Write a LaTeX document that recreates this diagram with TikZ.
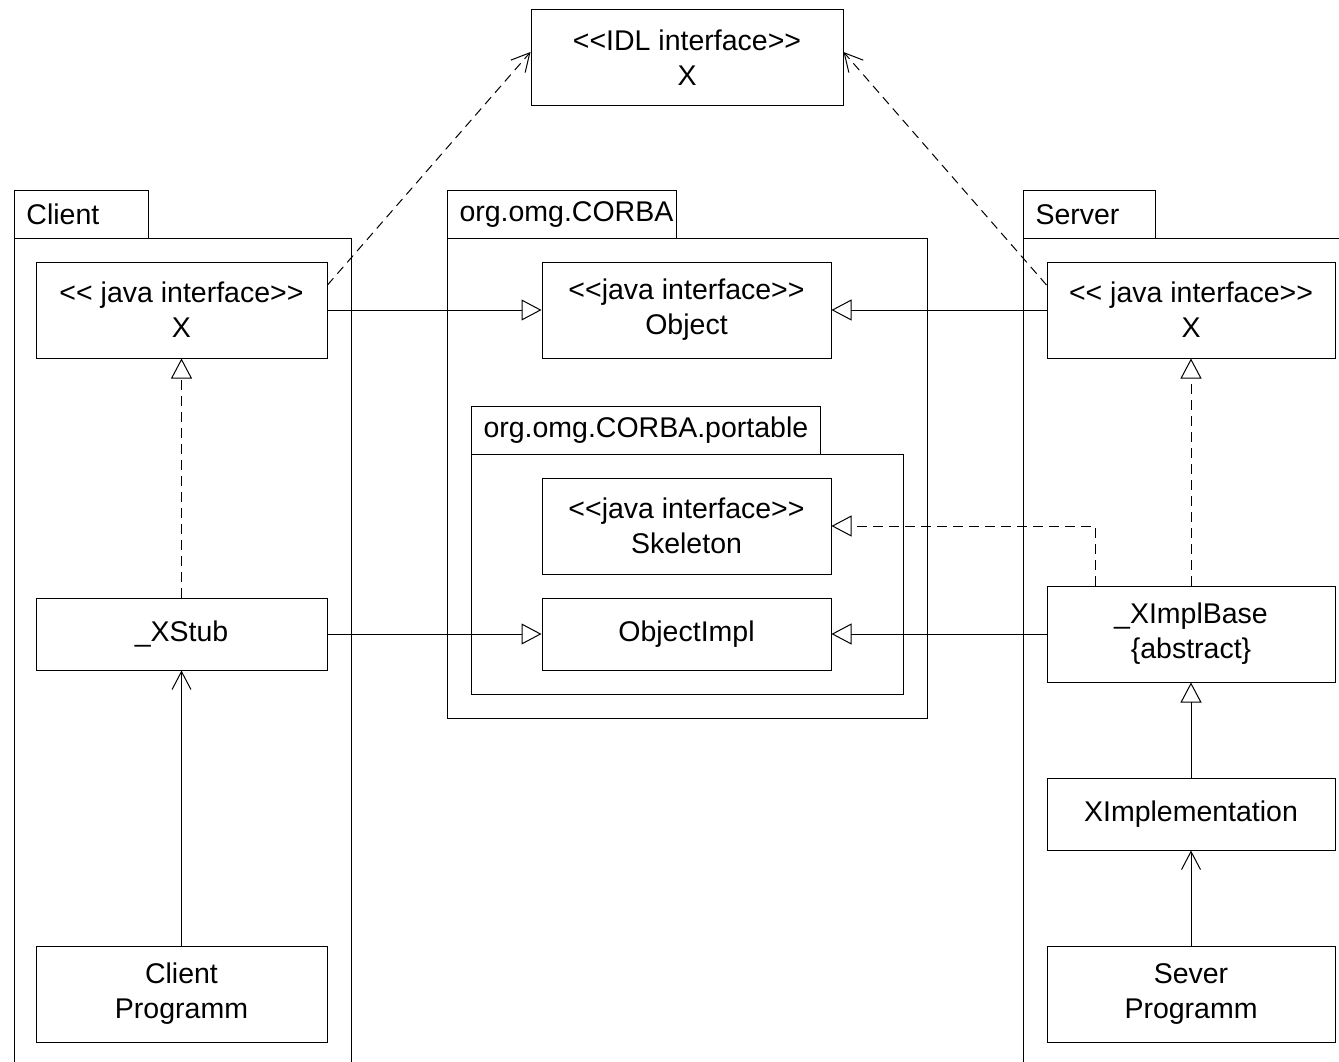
\documentclass[tikz,border=0pt]{standalone}
\usepackage{fontspec}
\setmainfont{Liberation Sans}
\usetikzlibrary{arrows.meta}

\begin{document}
\begin{tikzpicture}[x=1pt, y=-1pt, line width=1pt,
  font=\fontsize{28.5}{35}\selectfont,
  gen/.style={-{Triangle[open, length=20pt, width=21pt]}},
  realize/.style={gen, dash pattern=on 10pt off 6pt},
  uses/.style={-{Straight Barb[length=18pt, width=19pt]}},
  depend/.style={uses, dash pattern=on 9pt off 6pt}]
\clip (0,0) rectangle (1339,1062);
 % package bodies
 \draw (14,238) rectangle (351,1080);
 \draw (447,238) rectangle (927,718);
 \draw (471,454) rectangle (903,694);
 \draw (1023,238) rectangle (1360,1080);
  \begin{scope}[every node/.style={draw, anchor=north west, minimum height=48pt,
                inner xsep=12pt, inner ysep=0pt, align=left}]
  \node[text width=110pt] (client) at (14,190) {Client};
  \node[text width=205pt] (corba) at (447,190) {org.omg.CORBA};
  \node[text width=325pt] (portable) at (471,406) {org.omg.CORBA.portable};
  \node[text width=108pt] (server) at (1023,190) {Server};
 \end{scope}
 \begin{scope}[every node/.style={draw, align=center, inner sep=0pt}]
  \node[minimum width=312pt, minimum height=96pt] (idl) at (687,58) {<{}<IDL interface>{}>\\X};
  \node[minimum width=291pt, minimum height=96pt] (clientx) at (181.5,310) {<{}< java interface>{}>\\X};
  \node[minimum width=291pt, minimum height=72pt] (xstub) at (181.5,634) {\_XStub};
  \node[minimum width=291pt, minimum height=96pt] (clientprog) at (181.5,994) {Client\\Programm};
  \node[minimum width=289pt, minimum height=96pt] (object) at (686.5,310) {<{}<java interface>{}>\\Object};
  \node[minimum width=289pt, minimum height=96pt] (skeleton) at (686.5,526) {<{}<java interface>{}>\\Skeleton};
  \node[minimum width=289pt, minimum height=72pt] (objectimpl) at (686.5,634) {ObjectImpl};
  \node[minimum width=288pt, minimum height=96pt] (serverx) at (1191,310) {<{}< java interface>{}>\\X};
  \node[minimum width=288pt, minimum height=96pt] (ximplbase) at (1191,634) {\_XImplBase\\\{abstract\}};
  \node[minimum width=288pt, minimum height=72pt] (ximpl) at (1191,814) {XImplementation};
  \node[minimum width=288pt, minimum height=96pt] (serverprog) at (1191,994) {Sever\\Programm};
 \end{scope}
  \path [gen] (clientx) edge (object);
  \path [gen] (serverx) edge (object);
  \path [gen] (xstub) edge (objectimpl);
  \path [gen] (ximplbase) edge (objectimpl);
  \path [gen] (ximpl) edge (ximplbase);
  \path [realize] (xstub) edge (clientx);
  \path [realize] (ximplbase) edge (serverx);
  \draw [realize] ([xshift=-96pt]ximplbase.north) |- (skeleton);
  \path [uses] (clientprog) edge (xstub);
  \path [uses] (serverprog) edge (ximpl);
  \path [depend] ([yshift=25pt]clientx.east) edge ([yshift=6pt]idl.west);
  \path [depend] ([yshift=25pt]serverx.west) edge ([yshift=6pt]idl.east);
 \end{tikzpicture}
\end{document}
